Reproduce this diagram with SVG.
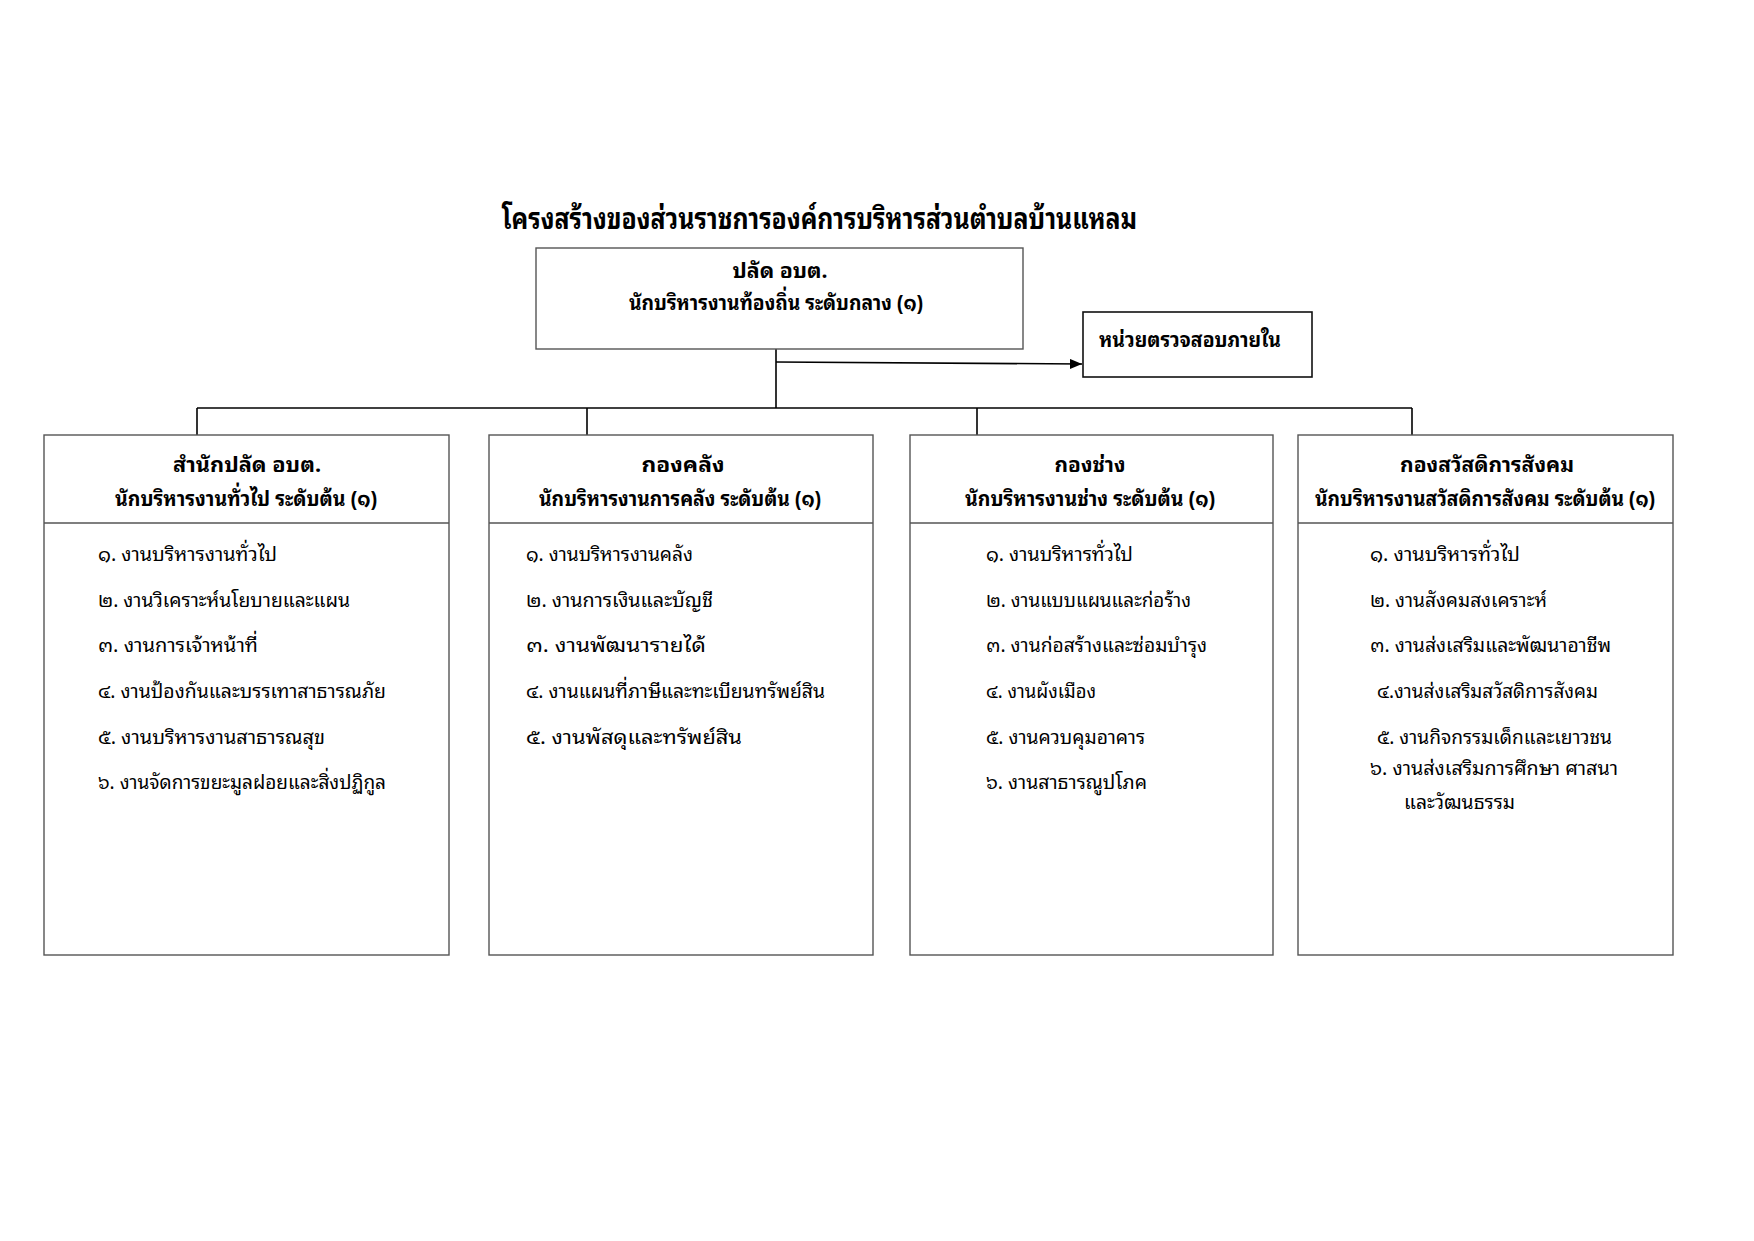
<svg xmlns="http://www.w3.org/2000/svg" width="1754" height="1241" viewBox="0 0 1754 1241">
<style>
text{font-family:"Noto Sans Thai Looped","Noto Sans Thai","Noto Sans","DejaVu Sans",sans-serif;fill:#000}
.t{font-size:30px;font-weight:bold}
.h{font-size:21px;font-weight:bold;text-anchor:middle}
.i{font-size:20px}
.box{fill:#fff;stroke:#555;stroke-width:1.4}
.ab{fill:#fff;stroke:#111;stroke-width:1.6}
.c{stroke:#000;stroke-width:1.6;fill:none}
</style>
<defs>
<marker id="arr" viewBox="0 0 12 10" refX="12" refY="5" markerWidth="12" markerHeight="10" markerUnits="userSpaceOnUse" orient="auto">
<path d="M0,0 L12,5 L0,10 Z" fill="#000"/>
</marker>
</defs>
<rect width="1754" height="1241" fill="#fff"/>
<text id="title" class="t" x="502" y="229" textLength="635" lengthAdjust="spacingAndGlyphs">โครงสร้างของส่วนราชการองค์การบริหารส่วนตำบลบ้านแหลม</text>
<g id="connectors">
<line class="c" x1="776" y1="349" x2="776" y2="408"/>
<line class="c" x1="776" y1="362" x2="1082" y2="364" marker-end="url(#arr)"/>
<line class="c" x1="197" y1="408" x2="1412" y2="408"/>
<line class="c" x1="197" y1="408" x2="197" y2="435"/>
<line class="c" x1="587" y1="408" x2="587" y2="435"/>
<line class="c" x1="977" y1="408" x2="977" y2="435"/>
<line class="c" x1="1412" y1="408" x2="1412" y2="435"/>
</g>
<g id="n-top">
<rect class="box" x="536" y="248" width="487" height="101"/>
<text class="h" x="780" y="278" textLength="95" lengthAdjust="spacingAndGlyphs">ปลัด อบต.</text>
<text class="h" x="776" y="310" textLength="294" lengthAdjust="spacingAndGlyphs">นักบริหารงานท้องถิ่น ระดับกลาง (๑)</text>
</g>
<g id="n-audit">
<rect class="ab" x="1083" y="312" width="229" height="65"/>
<text x="1099" y="347" style="font-size:20px;font-weight:bold" textLength="182" lengthAdjust="spacingAndGlyphs">หน่วยตรวจสอบภายใน</text>
</g>
<g id="n-office">
<rect class="box" x="44" y="435" width="405" height="520"/>
<line class="box" x1="44" y1="523" x2="449" y2="523"/>
<text class="h" x="247" y="472" textLength="148" lengthAdjust="spacingAndGlyphs">สำนักปลัด อบต.</text>
<text class="h" x="246" y="506" textLength="262" lengthAdjust="spacingAndGlyphs">นักบริหารงานทั่วไป ระดับต้น (๑)</text>
<text class="i" x="98" y="561" textLength="179" lengthAdjust="spacingAndGlyphs">๑. งานบริหารงานทั่วไป</text>
<text class="i" x="98" y="607" textLength="252" lengthAdjust="spacingAndGlyphs">๒. งานวิเคราะห์นโยบายและแผน</text>
<text class="i" x="98" y="652" textLength="160" lengthAdjust="spacingAndGlyphs">๓. งานการเจ้าหน้าที่</text>
<text class="i" x="98" y="698" textLength="288" lengthAdjust="spacingAndGlyphs">๔. งานป้องกันและบรรเทาสาธารณภัย</text>
<text class="i" x="98" y="744" textLength="227" lengthAdjust="spacingAndGlyphs">๕. งานบริหารงานสาธารณสุข</text>
<text class="i" x="98" y="789" textLength="288" lengthAdjust="spacingAndGlyphs">๖. งานจัดการขยะมูลฝอยและสิ่งปฏิกูล</text>
</g>
<g id="n-finance">
<rect class="box" x="489" y="435" width="384" height="520"/>
<line class="box" x1="489" y1="523" x2="873" y2="523"/>
<text class="h" x="683" y="472" textLength="83" lengthAdjust="spacingAndGlyphs">กองคลัง</text>
<text class="h" x="680" y="506" textLength="282" lengthAdjust="spacingAndGlyphs">นักบริหารงานการคลัง ระดับต้น (๑)</text>
<text class="i" x="526" y="561" textLength="167" lengthAdjust="spacingAndGlyphs">๑. งานบริหารงานคลัง</text>
<text class="i" x="526" y="607" textLength="187" lengthAdjust="spacingAndGlyphs">๒. งานการเงินและบัญชี</text>
<text class="i" x="526" y="652" textLength="180" lengthAdjust="spacingAndGlyphs">๓. งานพัฒนารายได้</text>
<text class="i" x="526" y="698" textLength="299" lengthAdjust="spacingAndGlyphs">๔. งานแผนที่ภาษีและทะเบียนทรัพย์สิน</text>
<text class="i" x="526" y="744" textLength="216" lengthAdjust="spacingAndGlyphs">๕. งานพัสดุและทรัพย์สิน</text>
</g>
<g id="n-works">
<rect class="box" x="910" y="435" width="363" height="520"/>
<line class="box" x1="910" y1="523" x2="1273" y2="523"/>
<text class="h" x="1090" y="472" textLength="71" lengthAdjust="spacingAndGlyphs">กองช่าง</text>
<text class="h" x="1090" y="506" textLength="250" lengthAdjust="spacingAndGlyphs">นักบริหารงานช่าง ระดับต้น (๑)</text>
<text class="i" x="986" y="561" textLength="147" lengthAdjust="spacingAndGlyphs">๑. งานบริหารทั่วไป</text>
<text class="i" x="986" y="607" textLength="205" lengthAdjust="spacingAndGlyphs">๒. งานแบบแผนและก่อร้าง</text>
<text class="i" x="986" y="652" textLength="221" lengthAdjust="spacingAndGlyphs">๓. งานก่อสร้างและซ่อมบำรุง</text>
<text class="i" x="986" y="698" textLength="110" lengthAdjust="spacingAndGlyphs">๔. งานผังเมือง</text>
<text class="i" x="986" y="744" textLength="159" lengthAdjust="spacingAndGlyphs">๕. งานควบคุมอาคาร</text>
<text class="i" x="986" y="789" textLength="161" lengthAdjust="spacingAndGlyphs">๖. งานสาธารณูปโภค</text>
</g>
<g id="n-welfare">
<rect class="box" x="1298" y="435" width="375" height="520"/>
<line class="box" x1="1298" y1="523" x2="1673" y2="523"/>
<text class="h" x="1487" y="472" textLength="174" lengthAdjust="spacingAndGlyphs">กองสวัสดิการสังคม</text>
<text class="h" x="1485" y="506" textLength="340" lengthAdjust="spacingAndGlyphs">นักบริหารงานสวัสดิการสังคม ระดับต้น (๑)</text>
<text class="i" x="1370" y="561" textLength="150" lengthAdjust="spacingAndGlyphs">๑. งานบริหารทั่วไป</text>
<text class="i" x="1370" y="607" textLength="177" lengthAdjust="spacingAndGlyphs">๒. งานสังคมสงเคราะห์</text>
<text class="i" x="1370" y="652" textLength="241" lengthAdjust="spacingAndGlyphs">๓. งานส่งเสริมและพัฒนาอาชีพ</text>
<text class="i" x="1377" y="698" textLength="221" lengthAdjust="spacingAndGlyphs">๔.งานส่งเสริมสวัสดิการสังคม</text>
<text class="i" x="1377" y="744" textLength="235" lengthAdjust="spacingAndGlyphs">๕. งานกิจกรรมเด็กและเยาวชน</text>
<text class="i" x="1370" y="775" textLength="248" lengthAdjust="spacingAndGlyphs">๖. งานส่งเสริมการศึกษา ศาสนา</text>
<text class="i" x="1404" y="809" textLength="111" lengthAdjust="spacingAndGlyphs">และวัฒนธรรม</text>
</g>
</svg>
